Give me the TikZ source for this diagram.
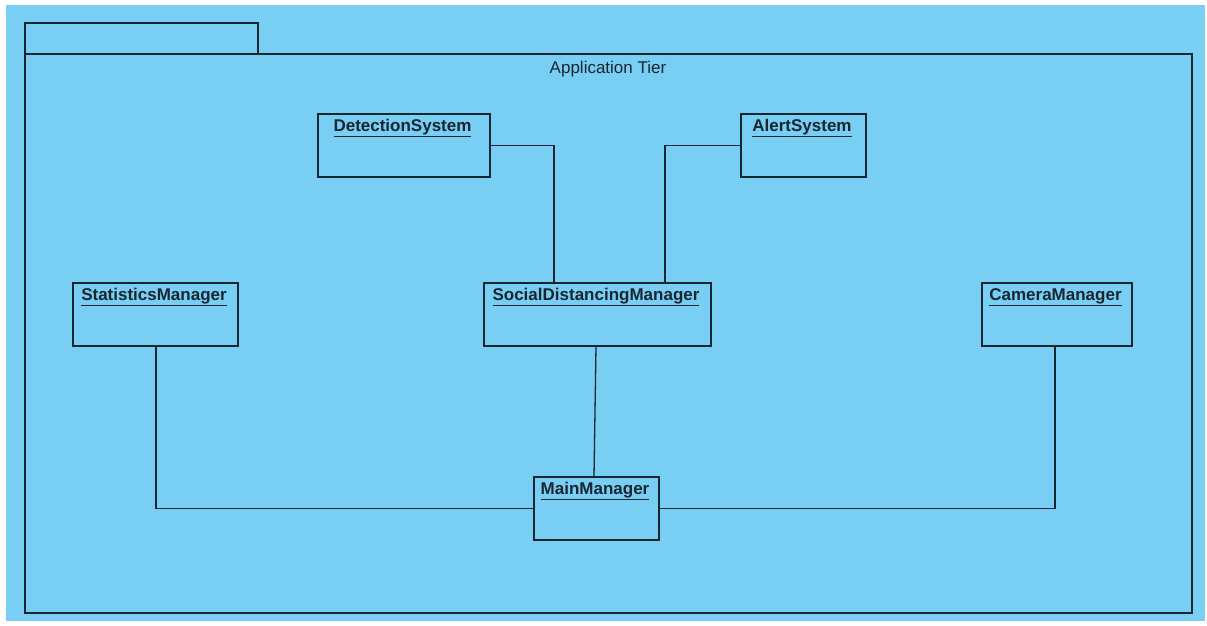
\documentclass[tikz,border=0pt]{standalone}
\usepackage{fontspec}
\setmainfont{Liberation Sans}
\definecolor{bgblue}{RGB}{121,206,243}
\definecolor{lc}{RGB}{24,38,50}
\begin{document}
\begin{tikzpicture}[x=1pt,y=-1pt,
  cls/.style={draw=lc, line width=1.2pt, inner sep=0pt, outer sep=0pt, anchor=north west},
  ttl/.style={font=\bfseries\fontsize{17}{19}\selectfont, text=lc, anchor=north, inner sep=0pt, yshift=-5pt, xshift=-1.5pt},
  conn/.style={draw=lc, line width=1.3pt},
  pkg/.style={draw=lc, line width=1.4pt}]
\useasboundingbox (0,0) rectangle (1207,626);
\fill[white] (0,0) rectangle (1207,626);
\fill[bgblue] (6,5) rectangle (1205,621);
% package
\draw[pkg] (25,54) rectangle (258,23);
\node[pkg, inner sep=0pt, outer sep=0pt, anchor=north west, minimum width=1167pt, minimum height=559pt] (tier) at (25,54) {};
\node[font=\fontsize{17}{19}\selectfont, text=lc, inner sep=0pt] (tiername) at (608,69) {Application Tier};
% classes
\node[cls, minimum width=172pt, minimum height=63pt, label={[ttl]north:\underline{DetectionSystem}}] (ds) at (318,114) {};
\node[cls, minimum width=125pt, minimum height=63pt, label={[ttl]north:\underline{AlertSystem}}] (as) at (741,114) {};
\node[cls, minimum width=165pt, minimum height=63pt, label={[ttl]north:\underline{StatisticsManager}}] (st) at (73,283) {};
\node[cls, minimum width=227pt, minimum height=63pt, label={[ttl]north:\underline{SocialDistancingManager}}] (sdm) at (484,283) {};
\node[cls, minimum width=150pt, minimum height=63pt, label={[ttl]north:\underline{CameraManager}}] (cm) at (982,283) {};
\node[cls, minimum width=125pt, minimum height=63pt, label={[ttl]north:\underline{MainManager}}] (mm) at (534,477) {};
% connectors
\draw[conn] (ds.east) -| ([xshift=70pt]sdm.north west);
\draw[conn] (as.west) -| ([xshift=181pt]sdm.north west);
\draw[conn] ([xshift=112pt]sdm.south west) -- ([xshift=60pt]mm.north west);
\draw[conn] ([xshift=83pt]st.south west) |- (mm.west);
\draw[conn] ([xshift=73pt]cm.south west) |- (mm.east);
\end{tikzpicture}
\end{document}
